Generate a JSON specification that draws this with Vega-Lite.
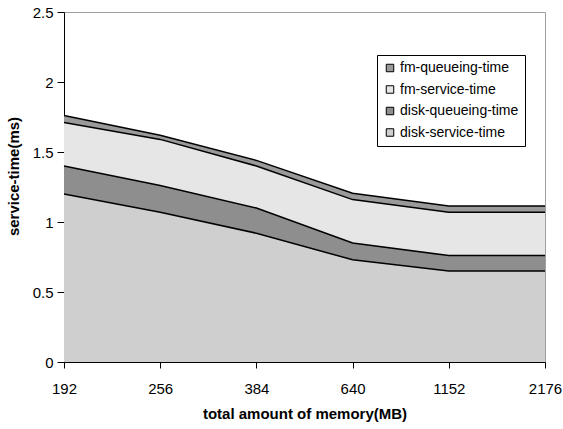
{
  "$schema": "https://vega.github.io/schema/vega-lite/v6.json",
  "width": 481,
  "height": 350,
  "autosize": "none",
  "padding": {"left": 64, "top": 12, "right": 18, "bottom": 67},
  "background": "white",
  "config": {
    "font": "Liberation Sans",
    "view": {"stroke": "#a0a0a0", "strokeWidth": 1}
  },
  "data": {
    "values": [
      {"mem": 192, "series": "disk-service-time", "rank": 1, "value": 1.20},
      {"mem": 256, "series": "disk-service-time", "rank": 1, "value": 1.07},
      {"mem": 384, "series": "disk-service-time", "rank": 1, "value": 0.92},
      {"mem": 640, "series": "disk-service-time", "rank": 1, "value": 0.73},
      {"mem": 1152, "series": "disk-service-time", "rank": 1, "value": 0.65},
      {"mem": 2176, "series": "disk-service-time", "rank": 1, "value": 0.65},
      {"mem": 192, "series": "disk-queueing-time", "rank": 2, "value": 0.20},
      {"mem": 256, "series": "disk-queueing-time", "rank": 2, "value": 0.19},
      {"mem": 384, "series": "disk-queueing-time", "rank": 2, "value": 0.18},
      {"mem": 640, "series": "disk-queueing-time", "rank": 2, "value": 0.12},
      {"mem": 1152, "series": "disk-queueing-time", "rank": 2, "value": 0.11},
      {"mem": 2176, "series": "disk-queueing-time", "rank": 2, "value": 0.11},
      {"mem": 192, "series": "fm-service-time", "rank": 3, "value": 0.31},
      {"mem": 256, "series": "fm-service-time", "rank": 3, "value": 0.33},
      {"mem": 384, "series": "fm-service-time", "rank": 3, "value": 0.30},
      {"mem": 640, "series": "fm-service-time", "rank": 3, "value": 0.31},
      {"mem": 1152, "series": "fm-service-time", "rank": 3, "value": 0.31},
      {"mem": 2176, "series": "fm-service-time", "rank": 3, "value": 0.31},
      {"mem": 192, "series": "fm-queueing-time", "rank": 4, "value": 0.05},
      {"mem": 256, "series": "fm-queueing-time", "rank": 4, "value": 0.03},
      {"mem": 384, "series": "fm-queueing-time", "rank": 4, "value": 0.04},
      {"mem": 640, "series": "fm-queueing-time", "rank": 4, "value": 0.045},
      {"mem": 1152, "series": "fm-queueing-time", "rank": 4, "value": 0.045},
      {"mem": 2176, "series": "fm-queueing-time", "rank": 4, "value": 0.045}
    ]
  },
  "encoding": {
    "x": {
      "field": "mem",
      "type": "ordinal",
      "scale": {"type": "point", "padding": 0},
      "axis": {
        "title": "total amount of memory(MB)",
        "labelAngle": 0,
        "labelFontSize": 15,
        "labelColor": "black",
        "labelPadding": 13,
        "tickSize": 6,
        "tickColor": "black",
        "domainColor": "black",
        "titleFontSize": 15,
        "titleFontWeight": "bold",
        "titleColor": "black",
        "titleBaseline": "alphabetic",
        "titleY": 56,
        "grid": false
      }
    },
    "y": {
      "field": "value",
      "type": "quantitative",
      "stack": "zero",
      "scale": {"domain": [0, 2.5], "nice": false},
      "axis": {
        "title": "service-time(ms)",
        "values": [0, 0.5, 1, 1.5, 2, 2.5],
        "format": "~g",
        "labelFontSize": 15,
        "labelColor": "black",
        "labelPadding": 4,
        "tickSize": 7,
        "tickColor": "black",
        "domainColor": "black",
        "titleFontSize": 15,
        "titleFontWeight": "bold",
        "titleColor": "black",
        "titleX": -43,
        "titleY": 164,
        "grid": false
      }
    },
    "order": {"field": "rank", "type": "quantitative"}
  },
  "layer": [
    {
      "mark": {"type": "area", "opacity": 1, "interpolate": "linear"},
      "encoding": {
        "color": {
          "field": "series",
          "type": "nominal",
          "scale": {
            "domain": ["fm-queueing-time", "fm-service-time", "disk-queueing-time", "disk-service-time"],
            "range": ["#9a9a9a", "#e6e6e6", "#8e8e8e", "#cfcfcf"]
          },
          "legend": {
            "title": null,
            "orient": "none",
            "legendX": 313,
            "legendY": 43,
            "fillColor": "white",
            "strokeColor": "black",
            "padding": 6,
            "symbolType": "square",
            "symbolSize": 56,
            "symbolStrokeColor": "black",
            "symbolStrokeWidth": 1,
            "symbolOpacity": 1,
            "labelFontSize": 14,
            "labelColor": "black",
            "labelOffset": 3,
            "rowPadding": 7.5
          }
        }
      }
    },
    {
      "mark": {"type": "line", "color": "black", "strokeWidth": 1.5},
      "encoding": {
        "detail": {"field": "series", "type": "nominal"}
      }
    }
  ]
}
